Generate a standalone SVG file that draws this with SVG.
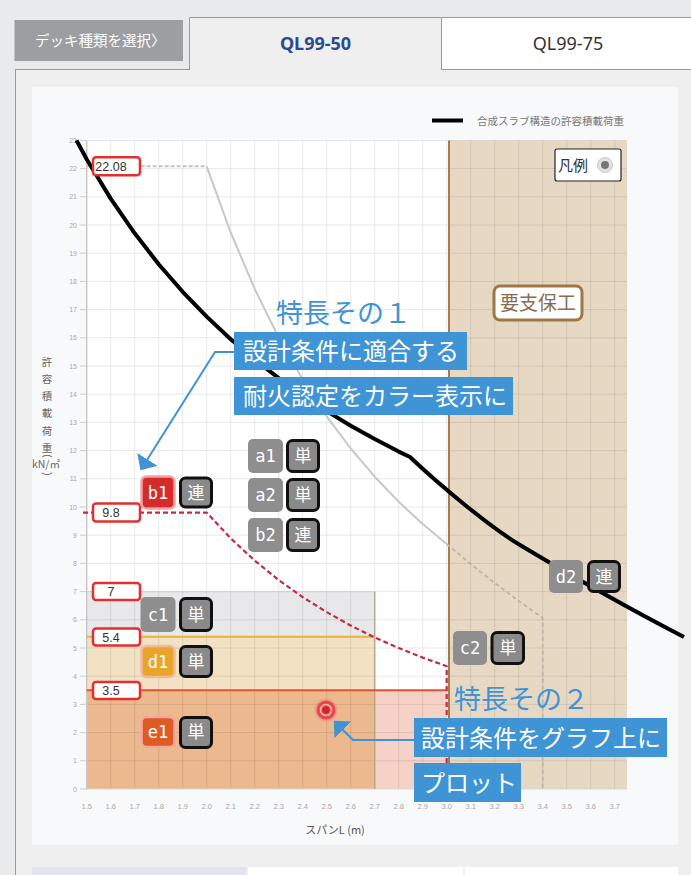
<svg xmlns="http://www.w3.org/2000/svg" width="691" height="875" viewBox="0 0 691 875">
<defs>
<style>
.jp{font-family:"Noto Sans CJK JP","Noto Sans",sans-serif}
.ytick{font-family:"Liberation Sans",sans-serif;font-size:7px;fill:#a8a8a8;text-anchor:end}
.xtick{font-family:"Liberation Sans",sans-serif;font-size:7.5px;fill:#a8a8a8;text-anchor:middle}
.ytitle{font-family:"Noto Sans CJK JP",sans-serif;font-size:10.5px;fill:#666;text-anchor:middle}
.paren{font-family:"Liberation Sans",sans-serif;font-size:10px;fill:#666;text-anchor:middle}
.val rect{fill:#fff;stroke:#e03030;stroke-width:2.5}
.val text{font-family:"Liberation Sans",sans-serif;font-size:12.5px;fill:#333;text-anchor:middle}
.tag text{font-family:"DejaVu Sans Mono",monospace;font-size:17px;fill:#fff;text-anchor:middle}
.kind rect{fill:#8a8a8a;stroke:#111;stroke-width:3}
.kind text{font-family:"Noto Sans CJK JP",sans-serif;font-size:17px;fill:#fff;text-anchor:middle}
.callbox{fill:#3f94d5}
.calltext{font-family:"Noto Sans CJK JP",sans-serif;font-size:24px;fill:#fff}
.head{font-family:"Noto Sans CJK JP",sans-serif;font-size:27px;fill:#3f94d5}
.conn{fill:none;stroke:#3f94d5;stroke-width:2;marker-end:url(#arr)}
</style>
<marker id="arr" markerUnits="userSpaceOnUse" markerWidth="14" markerHeight="24" refX="12" refY="12" orient="auto">
<path d="M0,0 L13,12 L0,24 Z" fill="#3f94d5"/>
</marker>
</defs>

<!-- page -->
<rect x="0" y="0" width="691" height="875" fill="#e9eaeb"/>
<rect x="15" y="69" width="676" height="806" fill="#efefef"/>
<line x1="15.5" y1="69" x2="15.5" y2="875" stroke="#9a9a9a" stroke-width="1"/>
<line x1="15" y1="69.5" x2="189" y2="69.5" stroke="#9a9a9a" stroke-width="1"/>

<g id="btn-deck">
<rect x="14.5" y="20" width="168.5" height="41" fill="#9d9e9f"/>
<text x="35" y="46" class="jp" font-size="14.5" fill="#fff">デッキ種類を選択〉</text>
</g>
<g id="tab-ql9950">
<rect x="189" y="17" width="253" height="53" fill="#efefef"/>
<path d="M189.5,70 V17.5 H441.5 V70" fill="none" stroke="#9a9a9a" stroke-width="1"/>
<text x="315.5" y="50" font-family="'Noto Sans','Noto Sans CJK JP',sans-serif" font-weight="bold" font-size="18" fill="#2b4b8c" text-anchor="middle">QL99-50</text>
</g>
<g id="tab-ql9975">
<rect x="442" y="17" width="249" height="52" fill="#fff"/>
<path d="M442,17.5 H691 M442,69.5 H691" fill="none" stroke="#9a9a9a" stroke-width="1"/>
<text x="568" y="50" font-family="'Noto Sans','Noto Sans CJK JP',sans-serif" font-size="18" fill="#333" text-anchor="middle">QL99-75</text>
</g>

<!-- chart panel -->
<rect x="32" y="87" width="646" height="758" fill="#f8f9fa"/>
<rect x="86.7" y="140.4" width="540.3" height="648.6" fill="#fff"/>

<!-- regions -->
<g id="regions">
<rect x="86.7" y="591.6" width="288" height="197.4" fill="#e8e8ea"/>
<rect x="86.7" y="636.7" width="288" height="152.3" fill="#f2e2c3"/>
<rect x="86.7" y="690.3" width="288" height="98.7" fill="#ecb88d"/>
<rect x="374.7" y="690.3" width="72" height="98.7" fill="#f6d1c5"/>
<rect x="449" y="140.4" width="178" height="648.6" fill="#e7d8c4"/>
</g>

<!-- grid -->
<g id="grid" stroke="#000" stroke-opacity="0.09" stroke-width="1" fill="none">
<path d="M110.7,140.4V789M134.7,140.4V789M158.7,140.4V789M182.7,140.4V789M206.7,140.4V789M230.7,140.4V789M254.7,140.4V789M278.7,140.4V789M302.7,140.4V789M326.7,140.4V789M350.7,140.4V789M374.7,140.4V789M398.7,140.4V789M422.7,140.4V789M446.7,140.4V789M470.7,140.4V789M494.7,140.4V789M518.7,140.4V789M542.7,140.4V789M566.7,140.4V789M590.7,140.4V789M614.7,140.4V789"/>
<path d="M86.7,760.8H627M86.7,732.6H627M86.7,704.4H627M86.7,676.2H627M86.7,648H627M86.7,619.8H627M86.7,591.6H627M86.7,563.4H627M86.7,535.2H627M86.7,507H627M86.7,478.8H627M86.7,450.6H627M86.7,422.4H627M86.7,394.2H627M86.7,366H627M86.7,337.8H627M86.7,309.6H627M86.7,281.4H627M86.7,253.2H627M86.7,225H627M86.7,196.8H627M86.7,168.6H627M86.7,140.4H627"/>
</g>

<!-- axes -->
<g id="axes">
<line x1="86.7" y1="140.4" x2="86.7" y2="789" stroke="#c8c8c8" stroke-width="1.5"/>
<line x1="86.7" y1="789" x2="627" y2="789" stroke="#d8d8d8" stroke-width="1"/>
<path d="M80,789H86.7M80,760.8H86.7M80,732.6H86.7M80,704.4H86.7M80,676.2H86.7M80,648H86.7M80,619.8H86.7M80,591.6H86.7M80,563.4H86.7M80,535.2H86.7M80,507H86.7M80,478.8H86.7M80,450.6H86.7M80,422.4H86.7M80,394.2H86.7M80,366H86.7M80,337.8H86.7M80,309.6H86.7M80,281.4H86.7M80,253.2H86.7M80,225H86.7M80,196.8H86.7M80,168.6H86.7M80,140.4H86.7" stroke="#ccc" stroke-width="1"/>
<g class="ytick">
<text x="77" y="791.5">0</text><text x="77" y="763.3">1</text><text x="77" y="735.1">2</text><text x="77" y="706.9">3</text><text x="77" y="678.7">4</text><text x="77" y="650.5">5</text><text x="77" y="622.3">6</text><text x="77" y="594.1">7</text><text x="77" y="565.9">8</text><text x="77" y="537.7">9</text><text x="77" y="509.5">10</text><text x="77" y="481.3">11</text><text x="77" y="453.1">12</text><text x="77" y="424.9">13</text><text x="77" y="396.7">14</text><text x="77" y="368.5">15</text><text x="77" y="340.3">16</text><text x="77" y="312.1">17</text><text x="77" y="283.9">18</text><text x="77" y="255.7">19</text><text x="77" y="227.5">20</text><text x="77" y="199.3">21</text><text x="77" y="171.1">22</text><text x="77" y="142.9">23</text>
</g>
<g class="xtick">
<text x="86.7" y="809">1.5</text><text x="110.7" y="809">1.6</text><text x="134.7" y="809">1.7</text><text x="158.7" y="809">1.8</text><text x="182.7" y="809">1.9</text><text x="206.7" y="809">2.0</text><text x="230.7" y="809">2.1</text><text x="254.7" y="809">2.2</text><text x="278.7" y="809">2.3</text><text x="302.7" y="809">2.4</text><text x="326.7" y="809">2.5</text><text x="350.7" y="809">2.6</text><text x="374.7" y="809">2.7</text><text x="398.7" y="809">2.8</text><text x="422.7" y="809">2.9</text><text x="446.7" y="809">3.0</text><text x="470.7" y="809">3.1</text><text x="494.7" y="809">3.2</text><text x="518.7" y="809">3.3</text><text x="542.7" y="809">3.4</text><text x="566.7" y="809">3.5</text><text x="590.7" y="809">3.6</text><text x="614.7" y="809">3.7</text>
</g>
<text x="335" y="834" class="jp" font-size="11" fill="#555" text-anchor="middle">スパンL (m)</text>
<g id="y-title">
<text class="ytitle"><tspan x="47" y="365.5">許</tspan><tspan x="47" y="382.8">容</tspan><tspan x="47" y="400.1">積</tspan><tspan x="47" y="417.4">載</tspan><tspan x="47" y="434.7">荷</tspan><tspan x="47" y="451.5">重</tspan></text>
<text class="paren" transform="translate(46.5,456) rotate(90)" x="0" y="2.6">(</text>
<text class="ytitle" x="46" y="468" font-size="11">kN/㎡</text>
<text class="paren" transform="translate(46.5,474) rotate(90)" x="0" y="2.6">)</text>
</g>
</g>

<!-- region borders -->
<g id="region-lines" fill="none">
<line x1="86.7" y1="591.6" x2="374.7" y2="591.6" stroke="#d2d2d6" stroke-width="1.2"/>
<line x1="374.7" y1="591.6" x2="374.7" y2="789" stroke="#bda789" stroke-width="1.5"/>
<line x1="86.7" y1="636.7" x2="374.7" y2="636.7" stroke="#e9b13f" stroke-width="2"/>
<line x1="86.7" y1="690.3" x2="446.7" y2="690.3" stroke="#e5522e" stroke-width="2"/>
<line x1="449" y1="140.4" x2="449" y2="789" stroke="#a57d4c" stroke-width="2"/>
</g>

<!-- curves -->
<g id="curves" fill="none" stroke-linejoin="round">
<path d="M86.7,166.3 H206.7" stroke="#c4c4c4" stroke-width="2" stroke-dasharray="4,2"/>
<path d="M206.7,166.3 L230.7,232.5 L254.7,288.9 L278.7,337.5 L302.7,379.6 L326.7,416.3 L350.7,448.5 L374.7,476.7 L398.7,501.8 L422.7,524.1 L446.7,544" stroke="#c8c8c8" stroke-width="2"/>
<path d="M446.7,544 L470.7,564 L494.7,583 L518.7,601 L542.7,618 V789" stroke="#bdb3a8" stroke-width="1.8" stroke-dasharray="4,3"/>
<path d="M83,512.6 H206.7 L230.7,538.3 L254.7,560.6 L278.7,580 L302.7,597.1 L326.7,612.1 L350.7,625.5 L374.7,637.4 L398.7,648 L422.7,657.6 L446.7,666.2 V789" stroke="#bf2c48" stroke-width="2.2" stroke-dasharray="5,3"/>
<path d="M76.5,140.4 L86.7,159.2 L110.7,198.6 L134.7,233.3 L158.7,264.2 L182.7,291.8 L206.7,316.6 L230.7,339.2 L254.7,359.5 L278.7,378.2 L302.7,395.4 L326.7,411.1 L350.7,425.7 L374.7,439.1 L398.7,451.6 L410,457 C440,485.5 490,527 520,545 C560,569 620,604 684,637" stroke="#000" stroke-width="4"/>
</g>

<!-- value labels -->
<g id="val-2208" class="val"><rect x="93" y="157.3" width="47" height="18" rx="3"/><text x="111" y="170.8">22.08</text></g>
<g id="val-98" class="val"><rect x="93" y="503.6" width="47" height="18" rx="3"/><text x="111" y="517">9.8</text></g>
<g id="val-7" class="val"><rect x="93" y="583" width="47" height="17" rx="3"/><text x="111" y="596">7</text></g>
<g id="val-54" class="val"><rect x="93" y="628.5" width="47" height="17" rx="3"/><text x="111" y="641.5">5.4</text></g>
<g id="val-35" class="val"><rect x="93" y="682" width="47" height="17" rx="3"/><text x="111" y="695">3.5</text></g>

<!-- tags -->
<g id="tag-b1" class="tag"><rect x="141.5" y="476.5" width="33" height="32" rx="5" fill="#d52b2b" stroke="#f3a3a3" stroke-width="2.5"/><text x="158" y="498.5">b1</text></g>
<g id="kind-b1" class="kind"><rect x="180.5" y="478" width="31" height="29" rx="5"/><text x="196" y="498.5">連</text></g>
<g id="tag-c1" class="tag"><rect x="140.5" y="597" width="35" height="35" rx="5" fill="#8e8e8e"/><text x="158" y="620.5">c1</text></g>
<g id="kind-c1" class="kind"><rect x="180.5" y="598.5" width="31" height="32" rx="5"/><text x="196" y="620.5">単</text></g>
<g id="tag-d1" class="tag"><rect x="141.5" y="646" width="33" height="31" rx="5" fill="#e9a42a" stroke="#f2b9a2" stroke-width="2.5"/><text x="158" y="667.5">d1</text></g>
<g id="kind-d1" class="kind"><rect x="180.5" y="646.5" width="31" height="30" rx="5"/><text x="196" y="667.5">単</text></g>
<g id="tag-e1" class="tag"><rect x="141.5" y="717" width="33" height="30" rx="5" fill="#e05a24" stroke="#f5a7a2" stroke-width="2.5"/><text x="158" y="738">e1</text></g>
<g id="kind-e1" class="kind"><rect x="180.5" y="717.5" width="31" height="30" rx="5"/><text x="196" y="738">単</text></g>
<g id="tag-a1" class="tag"><rect x="248" y="439" width="35" height="34" rx="5" fill="#8e8e8e"/><text x="265.5" y="462">a1</text></g>
<g id="kind-a1" class="kind"><rect x="287.5" y="440.5" width="31" height="31" rx="5"/><text x="303" y="462">単</text></g>
<g id="tag-a2" class="tag"><rect x="248" y="478" width="35" height="34" rx="5" fill="#8e8e8e"/><text x="265.5" y="501">a2</text></g>
<g id="kind-a2" class="kind"><rect x="287.5" y="479.5" width="31" height="31" rx="5"/><text x="303" y="501">単</text></g>
<g id="tag-b2" class="tag"><rect x="248" y="518" width="35" height="34" rx="5" fill="#8e8e8e"/><text x="265.5" y="541">b2</text></g>
<g id="kind-b2" class="kind"><rect x="287.5" y="519.5" width="31" height="31" rx="5"/><text x="303" y="541">連</text></g>
<g id="tag-c2" class="tag"><rect x="453" y="631" width="34" height="34" rx="5" fill="#8e8e8e"/><text x="470" y="654">c2</text></g>
<g id="kind-c2" class="kind"><rect x="492" y="632.5" width="31.5" height="31" rx="5"/><text x="508" y="654">単</text></g>
<g id="tag-d2" class="tag"><rect x="549" y="560" width="34" height="33" rx="5" fill="#8e8e8e"/><text x="566" y="582.5">d2</text></g>
<g id="kind-d2" class="kind"><rect x="588.5" y="561.5" width="31" height="30" rx="5"/><text x="604" y="582.5">連</text></g>

<!-- plotted point -->
<g id="plot-point">
<circle cx="326" cy="710" r="11.5" fill="#f08080" opacity="0.45"/>
<circle cx="326" cy="710" r="9.5" fill="#e54848"/>
<circle cx="326" cy="710" r="5.5" fill="none" stroke="#f8b8b8" stroke-width="1.5"/>
<circle cx="326" cy="710" r="3.5" fill="#c82828"/>
</g>

<!-- legend -->
<g id="legend-series">
<line x1="432" y1="120.5" x2="463" y2="120.5" stroke="#000" stroke-width="4"/>
<text x="477" y="124.5" class="jp" font-size="10.5" fill="#777">合成スラブ構造の許容積載荷重</text>
</g>
<g id="legend-toggle">
<rect x="555" y="149" width="66" height="32" rx="2" fill="#fff" stroke="#222" stroke-width="1.2"/>
<text x="558" y="171" class="jp" font-size="15" fill="#333">凡例</text>
<circle cx="605" cy="165" r="7.5" fill="#e2e2e2" stroke="#c8c8c8" stroke-width="1"/>
<circle cx="605" cy="165" r="4" fill="#777"/>
</g>
<g id="label-support">
<rect x="494" y="286" width="88" height="34" rx="6" fill="#fff" stroke="#9c7845" stroke-width="3"/>
<text x="538" y="310" class="jp" font-size="19" fill="#8c6c4c" text-anchor="middle">要支保工</text>
</g>

<!-- callouts -->
<g id="callout-1">
<text x="276" y="323" class="head">特長その１</text>
<rect class="callbox" x="234" y="332" width="233" height="38"/>
<text x="243" y="360" class="calltext">設計条件に適合する</text>
<rect class="callbox" x="234" y="377" width="279" height="38"/>
<text x="243" y="405" class="calltext">耐火認定をカラー表示に</text>
</g>
<g id="callout-2">
<text x="454" y="709" class="head">特長その２</text>
<rect class="callbox" x="414" y="718" width="253" height="39"/>
<text x="421" y="746.5" class="calltext">設計条件をグラフ上に</text>
<rect class="callbox" x="414" y="763" width="107" height="39"/>
<text x="421" y="791.5" class="calltext">プロット</text>
</g>

<!-- connectors -->
<g id="connectors">
<polyline class="conn" points="234,352 215,352 141,469.5"/>
<polyline class="conn" points="414,740 353,740 334.5,721.5"/>
</g>

<!-- bottom tabs -->
<g id="bottom-tabs">
<rect x="32" y="867" width="214" height="8" fill="#dfe4ee"/>
<rect x="248" y="867" width="215" height="8" fill="#fff"/>
<rect x="465" y="867" width="213" height="8" fill="#fff"/>
</g>
</svg>
